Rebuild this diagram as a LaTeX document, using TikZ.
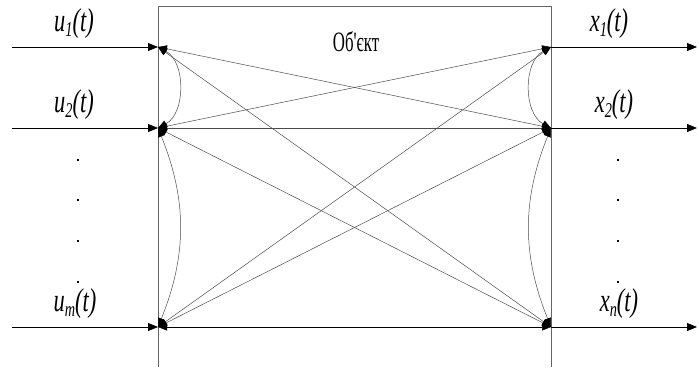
\documentclass[tikz,border=0pt]{standalone}
\usepackage{fontspec}
\setmainfont{Liberation Serif}
\newfontfamily\plainfont{Liberation Serif}[Ligatures=ResetAll]
\usetikzlibrary{arrows.meta,positioning}
\tikzset{
  sig/.style={inner sep=0pt, anchor=base,
    font=\fontsize{33}{33}\selectfont\itshape},
  ttl/.style={inner sep=0pt, font=\plainfont\fontsize{28}{28}\selectfont},
  io/.style={-{Triangle[length=10pt,width=8pt]}, line width=0.8pt},
  link/.style={{Triangle[length=9pt,width=7pt,color=black]}-{Triangle[length=9pt,width=7pt,color=black]},
    line width=0.5pt, draw=black!70},
  wall/.style={line width=0.7pt, draw=black!60},
  dot/.style={rectangle, fill=black, inner sep=0pt, minimum size=2.2pt}
}
\newcommand{\sgn}[2]{\scalebox{0.68}[1]{#1\raisebox{-0.35ex}{\fontsize{21}{21}\selectfont #2}(t)}}
\begin{document}
\begin{tikzpicture}[x=1pt, y=1pt]
  \useasboundingbox (0,0) rectangle (699,-367);

  % object box
  \coordinate (TL) at (158,-6);
  \coordinate (TR) at (551,-6);
  \coordinate (BL) at (158,-367);
  \coordinate (BR) at (551,-367);
  \draw[wall] (BL) -- (TL) -- (TR) -- (BR);
  \node[ttl] (obj) at (356,-42) {\scalebox{0.6}[1]{Об'єкт}};

  % ports
  \coordinate (L1) at (158,-47);
  \coordinate (L2) at (158,-128);
  \coordinate (Lm) at (158,-327);
  \coordinate (R1) at (551,-47);
  \coordinate (R2) at (551,-128);
  \coordinate (Rn) at (551,-327);
  \coordinate (in1) at (12,-47);
  \coordinate (in2) at (12,-128);
  \coordinate (inm) at (12,-327);
  \coordinate (out1) at (697,-47);
  \coordinate (out2) at (697,-128);
  \coordinate (outn) at (697,-327);

  % inputs and outputs
  \draw[io] (in1) -- (L1);
  \draw[io] (in2) -- (L2);
  \draw[io] (inm) -- (Lm);
  \draw[io] (R1) -- (out1);
  \draw[io] (R2) -- (out2);
  \draw[io] (Rn) -- (outn);

  % links inside the object
  \draw[link] (L1) -- (R2);
  \draw[link] (L1) -- (Rn);
  \draw[link] (L2) -- (R1);
  \draw[link] (L2) -- (R2);
  \draw[link] (L2) -- (Rn);
  \draw[link] (Lm) -- (R1);
  \draw[link] (Lm) -- (R2);
  \draw[link, draw=black] (Lm) -- (Rn);

  % couplings between neighbouring ports
  \draw[link] (L1) to[bend left=62] (L2);
  \draw[link] (L2) to[bend left=22] (Lm);
  \draw[link] (R1) to[bend right=62] (R2);
  \draw[link] (R2) to[bend right=22] (Rn);

  % signal labels
  \node[sig] (u1) at (74,-31) {\sgn{u}{1}};
  \node[sig] (u2) at (74,-112) {\sgn{u}{2}};
  \node[sig] (um) at (75,-311) {\sgn{u}{m}};
  \node[sig] (x1) at (609,-31) {\sgn{x}{1}};
  \node[sig] (x2) at (614,-112) {\sgn{x}{2}};
  \node[sig] (xn) at (619,-311) {\sgn{x}{n}};

  % dots
  \foreach \y [count=\i] in {160,200,241,282} {
    \node[dot] (ld\i) at (78,-\y) {};
    \node[dot] (rd\i) at (618,-\y) {};
  }
\end{tikzpicture}
\end{document}
